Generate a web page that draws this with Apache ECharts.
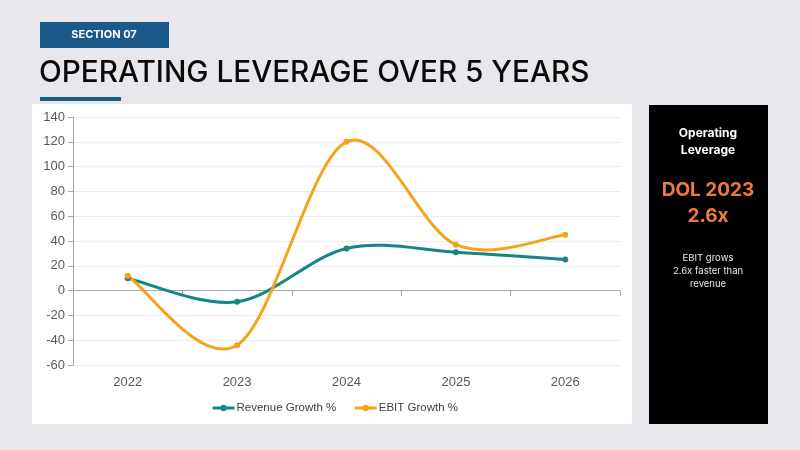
<!DOCTYPE html>
<html>
<head>
<meta charset="utf-8">
<script src="https://cdn.jsdelivr.net/npm/echarts@6/dist/echarts.min.js"></script>
<style>
  html, body { margin: 0; padding: 0; background: #e9e7eb; }
  #main { width: 800px; height: 450px; }
</style>
</head>
<body>
<div id="main"></div>
<script>
var years = ['2022', '2023', '2024', '2025', '2026'];
var revenueGrowth = [10, -9, 34, 31, 25];
var ebitGrowth = [12, -44, 120, 37, 45];
var yMin = -60, yMax = 140, yStep = 20;

var chartDom = document.getElementById('main');
var myChart = echarts.init(chartDom);
var option;

var blue = '#1b5a88';
var teal = '#178486';
var orange = '#f5a31c';
var font = 'Inter, "Liberation Sans", sans-serif';

// Excel-like smoothed line: cubic bezier through the points, tangent = (next - prev) / 6
function smoothPath(values, color) {
  return function (params, api) {
    if (params.dataIndex !== 0) return null;
    var pts = values.map(function (v, i) { return api.coord([i, v]); });
    var cmds = [['M', pts[0][0], pts[0][1]]];
    for (var i = 0; i < pts.length - 1; i++) {
      var p0 = pts[i - 1] || pts[i];
      var p1 = pts[i];
      var p2 = pts[i + 1];
      var p3 = pts[i + 2] || pts[i + 1];
      var c1 = [p1[0] + (p2[0] - p0[0]) / 6, p1[1] + (p2[1] - p0[1]) / 6];
      var c2 = [p2[0] - (p3[0] - p1[0]) / 6, p2[1] - (p3[1] - p1[1]) / 6];
      cmds.push(['C', c1[0], c1[1], c2[0], c2[1], p2[0], p2[1]]);
    }
    var d = cmds.map(function (c) { return c[0] + c.slice(1).join(' '); }).join(' ');
    return {
      type: 'path',
      shape: { pathData: d },
      style: { fill: 'none', stroke: color, lineWidth: 3 }
    };
  };
}

option = {
  backgroundColor: '#e9e7eb',
  animation: false,
  textStyle: { fontFamily: '"Liberation Sans", Arial, sans-serif' },
  graphic: [
    // header
    { type: 'rect', shape: { x: 40, y: 22, width: 129, height: 26 }, style: { fill: blue } },
    { type: 'text', x: 104, y: 35, style: { text: 'SECTION 07', fill: '#fff', font: 'bold 11px ' + font, align: 'center', verticalAlign: 'middle' } },
    { type: 'text', x: 39, y: 73, style: { text: 'OPERATING LEVERAGE OVER 5 YEARS', fill: '#0a0a0a', font: '500 29.7px ' + font, verticalAlign: 'middle' } },
    { type: 'rect', shape: { x: 40, y: 97, width: 81, height: 4 }, style: { fill: blue } },
    // chart panel
    { type: 'rect', z: -10, shape: { x: 32, y: 104, width: 600, height: 320 }, style: { fill: '#ffffff' } },
    // side panel
    { type: 'rect', shape: { x: 649, y: 105, width: 119, height: 319 }, style: { fill: '#000000' } },
    { type: 'text', x: 708, y: 142, style: { text: 'Operating\nLeverage', fill: '#fff', font: 'bold 12px ' + font, lineHeight: 17, align: 'center', verticalAlign: 'middle' } },
    { type: 'text', x: 708, y: 203, style: { text: 'DOL 2023\n2.6x', fill: '#f07b3a', font: 'bold 19px ' + font, lineHeight: 26, align: 'center', verticalAlign: 'middle' } },
    { type: 'text', x: 708, y: 271, style: { text: 'EBIT grows\n2.6x faster than\nrevenue', fill: '#e8e8e8', font: '9.5px ' + font, lineHeight: 13, align: 'center', verticalAlign: 'middle' } }
  ],
  grid: { left: 73, right: 180, top: 117, bottom: 85 },
  legend: {
    left: 206,
    top: 397,
    itemWidth: 22,
    itemHeight: 8,
    itemGap: 17,
    textStyle: { color: '#404040', fontSize: 11.5, fontFamily: '"Liberation Sans", Arial, sans-serif', padding: [0, 0, 0, -3] },
    data: [
      { name: 'Revenue Growth %', lineStyle: { color: teal, width: 3, opacity: 1 } },
      { name: 'EBIT Growth %', lineStyle: { color: orange, width: 3, opacity: 1 } }
    ]
  },
  xAxis: [
    {
      type: 'category',
      data: years,
      boundaryGap: true,
      axisLine: { show: false, onZero: false },
      axisTick: { show: false },
      axisLabel: { color: '#595959', fontSize: 13, margin: 11 }
    },
    {
      type: 'category',
      data: years,
      boundaryGap: true,
      position: 'bottom',
      axisLine: { show: true, onZero: true, lineStyle: { color: '#a6a6a6', width: 1 } },
      axisTick: { show: true, length: 5, lineStyle: { color: '#a6a6a6' } },
      axisLabel: { show: false }
    }
  ],
  yAxis: {
    type: 'value',
    min: yMin,
    max: yMax,
    interval: yStep,
    axisLine: { show: true, lineStyle: { color: '#a6a6a6' } },
    axisTick: { show: true, length: 5, lineStyle: { color: '#a6a6a6' } },
    axisLabel: { color: '#595959', fontSize: 13, margin: 8 },
    splitLine: { lineStyle: { color: '#ececec' } }
  },
  series: [
    {
      name: 'Revenue Growth %',
      type: 'line',
      data: revenueGrowth,
      symbol: 'circle',
      symbolSize: 6,
      itemStyle: { color: teal },
      lineStyle: { color: teal, width: 3, opacity: 0 },
      z: 3
    },
    {
      name: 'EBIT Growth %',
      type: 'line',
      data: ebitGrowth,
      symbol: 'circle',
      symbolSize: 6,
      itemStyle: { color: orange },
      lineStyle: { color: orange, width: 3, opacity: 0 },
      z: 3
    },
    {
      name: 'Revenue Growth %',
      type: 'custom',
      renderItem: smoothPath(revenueGrowth, teal),
      data: revenueGrowth,
      itemStyle: { color: teal },
      z: 2
    },
    {
      name: 'EBIT Growth %',
      type: 'custom',
      renderItem: smoothPath(ebitGrowth, orange),
      data: ebitGrowth,
      itemStyle: { color: orange },
      z: 2
    }
  ]
};

option && myChart.setOption(option);
</script>
</body>
</html>
